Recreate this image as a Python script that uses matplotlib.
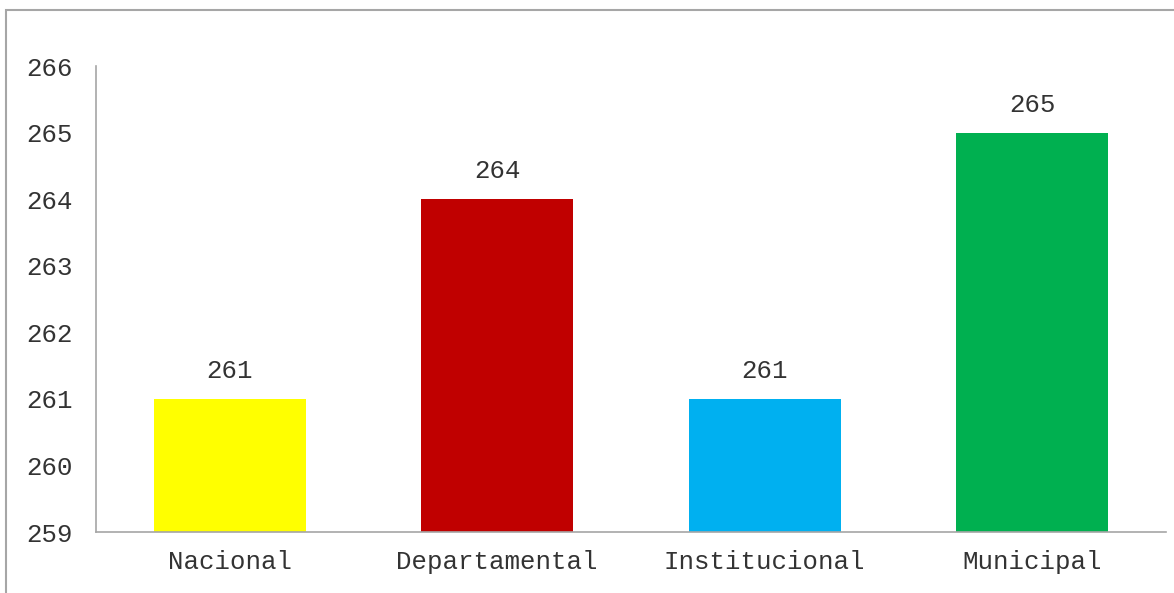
import matplotlib.pyplot as plt
from matplotlib.patches import Rectangle

# Data
categories = ['Nacional', 'Departamental', 'Institucional', 'Municipal']
values = [261, 264, 261, 265]
colors = ['#FFFF00', '#C00000', '#00B0F0', '#00B050']

plt.rcParams['font.family'] = ['Liberation Mono', 'DejaVu Sans Mono']

fig = plt.figure(figsize=(11.74, 5.93), dpi=100)
ax = fig.add_axes([96 / 1174, 61 / 593, 1070 / 1174, 466 / 593])

x = range(len(categories))
bars = ax.bar(x, values, width=0.57, color=colors, bottom=0)
ax.set_ylim(259, 266)
ax.set_xlim(-0.5, len(categories) - 0.5)
ax.set_yticks(range(259, 267))
ax.set_xticks(list(x))
ax.set_xticklabels(categories)

for xi, v in zip(x, values):
    ax.annotate(str(v), (xi, v), xytext=(0, 20), textcoords='offset points',
                ha='center', va='center', fontsize=18.5, color='#333333')

ax.tick_params(axis='both', length=0, labelsize=18.5, colors='#333333')
ax.tick_params(axis='y', pad=17)
ax.tick_params(axis='x', pad=13)
for side in ['top', 'right']:
    ax.spines[side].set_visible(False)
for side in ['left', 'bottom']:
    ax.spines[side].set_color('#A6A6A6')
    ax.spines[side].set_linewidth(1.2)

# Outer chart border (cropped at right and bottom)
fig.patches.append(Rectangle((6 / 1174, -0.1), 1.2, (583 / 593) + 0.1,
                             transform=fig.transFigure, fill=False,
                             edgecolor='#A6A6A6', linewidth=1.5))

fig.savefig('out.png', dpi=100)
